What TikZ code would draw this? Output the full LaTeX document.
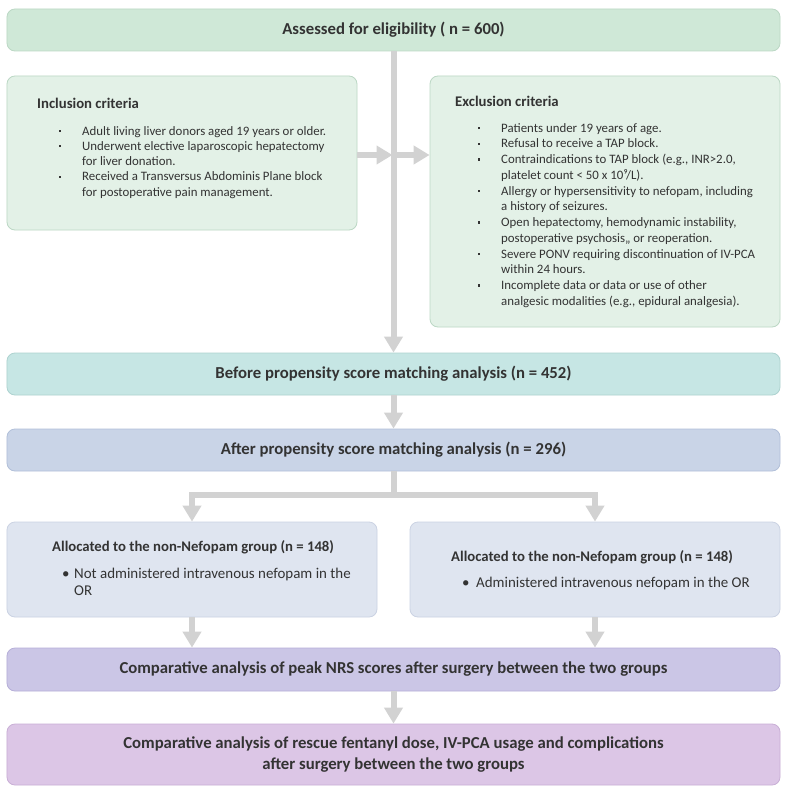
\documentclass[tikz,border=0pt]{standalone}
\usepackage{fontspec}
\setmainfont{Carlito}
\usetikzlibrary{arrows.meta,calc}
\definecolor{txt}{HTML}{333333}
\definecolor{arrgray}{HTML}{D2D2D2}
\definecolor{greenA}{HTML}{CFE8D7}
\definecolor{greenB}{HTML}{E3F1E7}
\definecolor{greenE}{HTML}{BCD8C5}
\definecolor{tealA}{HTML}{C6E6E4}
\definecolor{tealE}{HTML}{AED3D0}
\definecolor{blueA}{HTML}{C9D4E7}
\definecolor{blueE}{HTML}{B2C0D9}
\definecolor{blueB}{HTML}{DFE5F0}
\definecolor{blueBE}{HTML}{CBD3E3}
\definecolor{lavA}{HTML}{CBC6E6}
\definecolor{lavE}{HTML}{B6AFD8}
\definecolor{pinkA}{HTML}{DCC6E6}
\definecolor{pinkE}{HTML}{C9AFD6}
\tikzset{
  box/.style={draw, line width=0.8bp, rounded corners=8bp, inner sep=0pt, text=txt},
  arr/.style={draw=arrgray, line width=6bp, -{Triangle[width=18bp,length=16bp]}},
  plain/.style={draw=arrgray, line width=6bp},
  bigtitle/.style={font=\fontsize{16.8}{21}\selectfont\bfseries, text=txt},
  subtitle/.style={font=\fontsize{14.8}{18}\selectfont\bfseries, text=txt, inner sep=0pt},
  listtxt/.style={text=txt, inner sep=0pt, align=left},
}
\newcommand{\bul}{\makebox[23bp][l]{\raisebox{0.5ex}{\rule{2.2bp}{2.2bp}}}}
\newcommand{\cnt}{\hspace*{23bp}}
\begin{document}
\begin{tikzpicture}[x=1bp,y=-1bp]
\useasboundingbox (0,0) rectangle (788,791);
\fill[white] (0,0) rectangle (788,791);
% boxes
\node[box, fill=greenA, draw=greenE, minimum width=773bp, minimum height=42bp, bigtitle] (assess) at (393.5,30) {Assessed for eligibility ( n = 600)};
\node[box, fill=greenB, draw=greenE, minimum width=350bp, minimum height=154bp] (incl) at (182,153) {};
\node[box, fill=greenB, draw=greenE, minimum width=350bp, minimum height=251bp] (excl) at (605,201.5) {};
\node[box, fill=tealA, draw=tealE, minimum width=773bp, minimum height=42bp, bigtitle] (before) at (393.5,374) {Before propensity score matching analysis (n = 452)};
\node[box, fill=blueA, draw=blueE, minimum width=773bp, minimum height=42bp, bigtitle] (after) at (393.5,450) {After propensity score matching analysis (n = 296)};
\node[box, fill=blueB, draw=blueBE, minimum width=370bp, minimum height=95bp] (gL) at (192,569.5) {};
\node[box, fill=blueB, draw=blueBE, minimum width=370bp, minimum height=95bp] (gR) at (595,569.5) {};
\node[box, fill=lavA, draw=lavE, minimum width=773bp, minimum height=43bp, bigtitle] (nrs) at (393.5,669.5) {Comparative analysis of peak NRS scores after surgery between the two groups};
\node[box, fill=pinkA, draw=pinkE, minimum width=773bp, minimum height=61bp, bigtitle, align=center] (final) at (393.5,754.5) {Comparative analysis of rescue fentanyl dose, IV-PCA usage and complications\\after surgery between the two groups};
% inclusion text
\node[subtitle, anchor=base west] (inclT) at (37,108) {Inclusion criteria};
\node[listtxt, anchor=north west, font=\fontsize{12.9}{15.3}\selectfont] (inclL) at (59,124.2) {%
\strut\bul Adult living liver donors aged 19 years or older.\\
\strut\bul Underwent elective laparoscopic hepatectomy\\
\strut\cnt for liver donation.\\
\strut\bul Received a Transversus Abdominis Plane block\\
\strut\cnt for postoperative pain management.};
% exclusion text
\node[subtitle, anchor=base west] (exclT) at (455,106) {Exclusion criteria};
\node[listtxt, anchor=north west, font=\fontsize{12.9}{15.8}\selectfont] (exclL) at (478,121) {%
\strut\bul Patients under 19 years of age.\\
\strut\bul Refusal to receive a TAP block.\\
\strut\bul Contraindications to TAP block (e.g., INR>2.0,\\
\strut\cnt platelet count < 50 x 10⁹/L).\\
\strut\bul Allergy or hypersensitivity to nefopam, including\\
\strut\cnt a history of seizures.\\
\strut\bul Open hepatectomy, hemodynamic instability,\\
\strut\cnt postoperative psychosis,, or reoperation.\\
\strut\bul Severe PONV requiring discontinuation of IV-PCA\\
\strut\cnt within 24 hours.\\
\strut\bul Incomplete data or data or use of other\\
\strut\cnt analgesic modalities (e.g., epidural analgesia).};
% group texts
\node[subtitle, anchor=base west] (gLT) at (52,551) {Allocated to the non-Nefopam group (n = 148)};
\node[listtxt, anchor=north west, font=\fontsize{15}{17.5}\selectfont] (gLL) at (62,566) {%
\strut\makebox[12bp][l]{•}Not administered intravenous nefopam in the\\
\strut\hspace*{12bp}OR};
\node[subtitle, anchor=base west] (gRT) at (451,561) {Allocated to the non-Nefopam group (n = 148)};
\node[listtxt, anchor=north west, font=\fontsize{15}{17.5}\selectfont] (gRL) at (462,575) {%
\strut\makebox[14bp][l]{•}Administered intravenous nefopam in the OR};
% connectors
\coordinate (j1) at (393.5,155);
\coordinate (br) at (393.5,495);
\draw[arr] (assess.south) -- (before.north);
\draw[arr] (incl.east |- j1) -- ($(j1)+(-1,0)$);
\draw[arr] ($(j1)+(3,0)$) -- (excl.west |- j1);
\draw[arr] (before.south) -- (after.north);
\draw[plain] (after.south) -- (br);
\draw[arr] (br) -| (gL.north);
\draw[arr] (br) -| (gR.north);
\draw[arr] (gL.south) -- (gL.south |- nrs.north);
\draw[arr] (gR.south) -- (gR.south |- nrs.north);
\draw[arr] (nrs.south) -- (final.north);
\end{tikzpicture}
\end{document}
